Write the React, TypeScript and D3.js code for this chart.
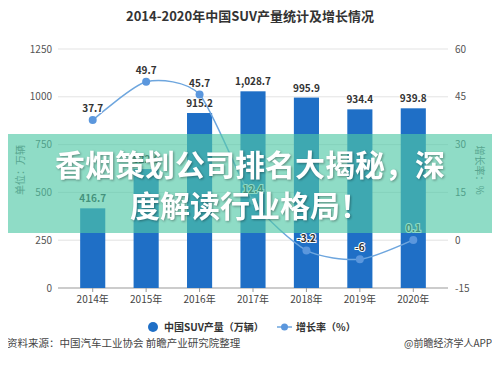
import React from 'react'
import * as d3 from 'd3'

const years = ['2014年', '2015年', '2016年', '2017年', '2018年', '2019年', '2020年']
const production = [416.7, 622.0, 915.2, 1028.7, 995.9, 934.4, 939.8]
const productionLabels = ['416.7', '622.0', '915.2', '1,028.7', '995.9', '934.4', '939.8']
const growth = [37.7, 49.7, 45.7, 12.4, -3.2, -6, 0.1]
const leftTicks = [0, 250, 500, 750, 1000, 1250]
const rightTicks = [-15, 0, 15, 30, 45, 60]

const W = 500
const H = 369
const font = '"Noto Sans CJK SC", "Noto Sans", sans-serif'
const barColor = '#1f6fc6'
const lineColor = '#6ea6de'

export default function App() {
  const x = d3.scaleBand().domain(years).range([66, 440]).paddingInner(0.53).paddingOuter(0.265)
  const yL = d3.scaleLinear().domain([0, 1250]).range([288, 49])
  const yR = d3.scaleLinear().domain([-15, 60]).range([288, 49])
  const cx = (d: string) => (x(d) ?? 0) + x.bandwidth() / 2

  const line = d3
    .line<number>()
    .x((_, i) => cx(years[i]))
    .y((d) => yR(d))
    .curve(d3.curveCardinal.tension(0.3))

  return (
    <div style={{ margin: -8, width: W, height: H, overflow: 'hidden' }}>
      <svg width={W} height={H} style={{ display: 'block', background: '#fff', fontFamily: font }}>
        <text x={250} y={21} textAnchor="middle" fontSize={13} fontWeight="bold" fill="#333">
          2014-2020年中国SUV产量统计及增长情况
        </text>

        {/* grid + axes */}
        {leftTicks.map((t) => (
          <g key={t}>
            <line x1={58} x2={448} y1={yL(t)} y2={yL(t)} stroke={t === 0 ? '#999' : '#e3e3e3'} />
            <text x={52} y={yL(t)} dy="0.35em" textAnchor="end" fontSize={10} fill="#555">
              {t}
            </text>
          </g>
        ))}
        {rightTicks.map((t) => (
          <text key={t} x={455} y={yR(t)} dy="0.35em" fontSize={10} fill="#555">
            {t}
          </text>
        ))}
        {years.map((y) => (
          <g key={y}>
            <line x1={cx(y)} x2={cx(y)} y1={288} y2={292} stroke="#999" />
            <text x={cx(y)} y={303} textAnchor="middle" fontSize={10} fill="#444">
              {y}
            </text>
          </g>
        ))}
        <text transform="translate(24,170) rotate(-90)" textAnchor="middle" fontSize={10} fill="#666">
          单位：万辆
        </text>
        <text transform="translate(476,170) rotate(90)" textAnchor="middle" fontSize={10} fill="#666">
          增长率：%
        </text>

        {/* bars */}
        {production.map((v, i) => (
          <g key={i}>
            <rect x={x(years[i])} y={yL(v)} width={x.bandwidth()} height={yL(0) - yL(v)} fill={barColor} />
            <text
              x={cx(years[i])}
              y={yL(v) - 6}
              textAnchor="middle"
              fontSize={10}
              fontWeight="bold"
              fill="#333"
              stroke="#fff"
              strokeWidth={2}
              paintOrder="stroke"
            >
              {productionLabels[i]}
            </text>
          </g>
        ))}

        {/* growth line */}
        <path d={line(growth) ?? ''} fill="none" stroke={lineColor} strokeWidth={1.5} />
        {growth.map((v, i) => (
          <g key={i}>
            <circle cx={cx(years[i])} cy={yR(v)} r={4} fill="#5b97dd" />
            <text
              x={cx(years[i])}
              y={yR(v) - 8}
              textAnchor="middle"
              fontSize={10}
              fontWeight="bold"
              fill="#333"
              stroke="#fff"
              strokeWidth={2}
              paintOrder="stroke"
            >
              {v}
            </text>
          </g>
        ))}

        {/* legend */}
        <circle cx={153} cy={327} r={5} fill={barColor} />
        <text x={164} y={327} dy="0.35em" fontSize={10} fontWeight="bold" fill="#333">
          中国SUV产量（万辆）
        </text>
        <line x1={277} x2={292} y1={327} y2={327} stroke={lineColor} strokeWidth={1.5} />
        <circle cx={284.5} cy={327} r={3.5} fill="#5b97dd" />
        <text x={296} y={327} dy="0.35em" fontSize={10} fontWeight="bold" fill="#333">
          增长率（%）
        </text>

        {/* footer */}
        <text x={7} y={343} dy="0.35em" fontSize={10.5} fill="#444">
          资料来源：中国汽车工业协会 前瞻产业研究院整理
        </text>
        <text x={404} y={343} dy="0.35em" fontSize={10} fill="#444">
          @前瞻经济学人APP
        </text>

        {/* banner overlay */}
        <rect x={0} y={134} width={W} height={99} fill="rgb(80,200,166)" opacity={0.64} />
        <g fontSize={30} fontWeight="bold" fill="#fff" textAnchor="middle" style={{ filter: 'drop-shadow(1px 1px 1px rgba(0,0,0,0.35))' }}>
          <text x={250} y={165} dy="0.35em">
            香烟策划公司排名大揭秘，深
          </text>
          <text x={250} y={206} dy="0.35em">
            度解读行业格局！
          </text>
        </g>
      </svg>
    </div>
  )
}
